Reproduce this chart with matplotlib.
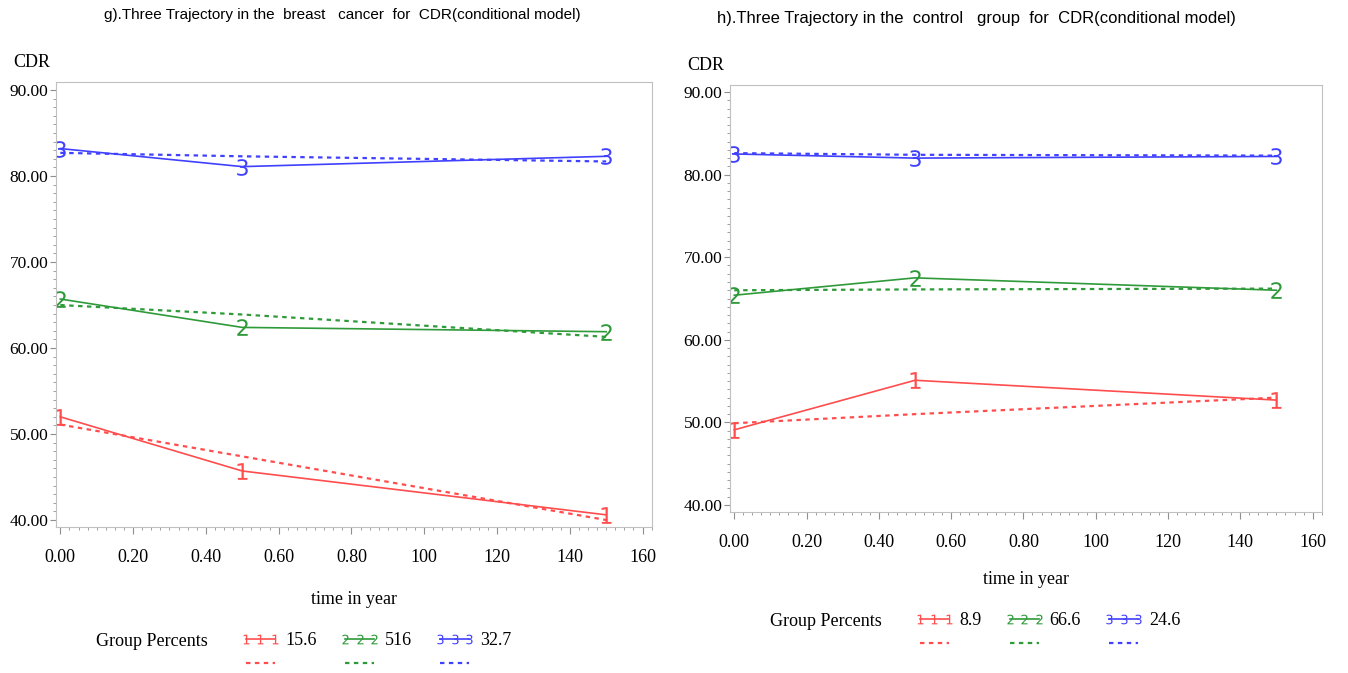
import matplotlib
matplotlib.use("Agg")
import matplotlib.pyplot as plt
from matplotlib.ticker import MultipleLocator, FixedLocator

# time points (years)
t = [0.0, 0.5, 1.5]

# panel g) breast cancer: observed (solid) and predicted (dotted)
g_obs = {1: [52.0, 45.7, 40.6], 2: [65.7, 62.4, 61.9], 3: [83.2, 81.1, 82.3]}
g_pred = {1: [51.1, 47.4, 40.0], 2: [65.0, 63.9, 61.3], 3: [82.7, 82.3, 81.7]}
g_pct = ["15.6", "516", "32.7"]

# panel h) control group
h_obs = {1: [49.1, 55.1, 52.7], 2: [65.4, 67.5, 66.0], 3: [82.5, 82.0, 82.2]}
h_pred = {1: [49.9, 51.0, 53.0], 2: [66.0, 66.1, 66.2], 3: [82.6, 82.4, 82.3]}
h_pct = ["8.9", "66.6", "24.6"]

xticks = [0.0, 0.2, 0.4, 0.6, 0.8, 1.0, 1.2, 1.4, 1.6]
xticklabels = ["0.00", "0.20", "0.40", "0.60", "0.80", "100", "120", "140", "160"]
yticks = [40, 50, 60, 70, 80, 90]
yticklabels = ["40.00", "50.00", "60.00", "70.00", "80.00", "90.00"]

colors = {1: "#ff4d4d", 2: "#2f9a3a", 3: "#4040ff"}
serif = ["Liberation Serif", "DejaVu Serif"]
sans = ["Liberation Sans", "DejaVu Sans"]

fig = plt.figure(figsize=(13.48, 6.73), dpi=100)


def panel(rect, obs, pred, pct, title, title_xy, title_size, ylim, legend_y, xlabel_y):
    ax = fig.add_axes(rect)
    for g in (1, 2, 3):
        ax.plot(t, pred[g], color=colors[g], lw=1.6, ls=(0, (2, 2)))
        ax.plot(t, obs[g], color=colors[g], lw=1.2, marker="$%d$" % g,
                markersize=12, markeredgewidth=0)
    ax.set_xlim(-0.012, 1.626)
    ax.set_ylim(*ylim)
    ax.xaxis.set_major_locator(FixedLocator(xticks))
    ax.set_xticklabels(xticklabels, family=serif, fontsize=13)
    ax.xaxis.set_minor_locator(MultipleLocator(0.025))
    ax.yaxis.set_major_locator(FixedLocator(yticks))
    ax.set_yticklabels(yticklabels, family=serif, fontsize=12.5)
    ax.yaxis.set_minor_locator(MultipleLocator(1))
    for s in ax.spines.values():
        s.set_color("#c0c0c0")
    ax.tick_params(which="both", color="#909090", direction="out")
    ax.tick_params(which="major", length=4)
    ax.tick_params(which="minor", length=2)
    ax.tick_params(axis="x", which="major", pad=11, length=5)
    ax.tick_params(axis="y", which="major", pad=1.5)
    # axis titles
    x0, y0, w, h = rect
    fig.text(x0 - 0.018, y0 + h + 0.016, "CDR", family=serif, fontsize=13,
             ha="center", va="bottom")
    fig.text(x0 + w * 0.5, xlabel_y, "time in year", family=serif, fontsize=13,
             ha="center", va="center")
    fig.text(title_xy[0], title_xy[1], title, family=sans, fontsize=title_size,
             ha="center", va="center")
    # legend
    handles, labels = [], []
    for g in (1, 2, 3):
        s, = ax.plot([], [], color=colors[g], lw=1.2, marker="$%d$" % g,
                     markersize=7, markeredgewidth=0)
        d, = ax.plot([], [], color=colors[g], lw=1.6, ls=(0, (2, 2)))
        handles += [s, d]
        labels += [pct[g - 1], " "]
    fig.text(x0 + 0.03, legend_y, "Group Percents", family=serif, fontsize=13,
             ha="left", va="center")
    fig.legend(handles, labels, ncol=3, numpoints=3, frameon=False,
               loc="upper left", bbox_to_anchor=(x0 + 0.137, legend_y + 0.015),
               handlelength=2.2, handletextpad=0.3, columnspacing=1.25,
               labelspacing=0.4, borderpad=0, borderaxespad=0,
               prop={"family": serif, "size": 13})
    return ax


panel([0.0415, 0.217, 0.4422, 0.661], g_obs, g_pred, g_pct,
      "g).Three Trajectory in the  breast   cancer  for  CDR(conditional model)",
      (0.254, 0.977), 11, (39.19, 90.93), 1 - 642 / 673, 1 - 600 / 673)
panel([0.5415, 0.2392, 0.4392, 0.6345], h_obs, h_pred, h_pct,
      "h).Three Trajectory in the  control   group  for  CDR(conditional model)",
      (0.724, 0.973), 12, (39.15, 90.85), 1 - 622 / 673, 1 - 580 / 673)

fig.savefig("out.png", dpi=100)
